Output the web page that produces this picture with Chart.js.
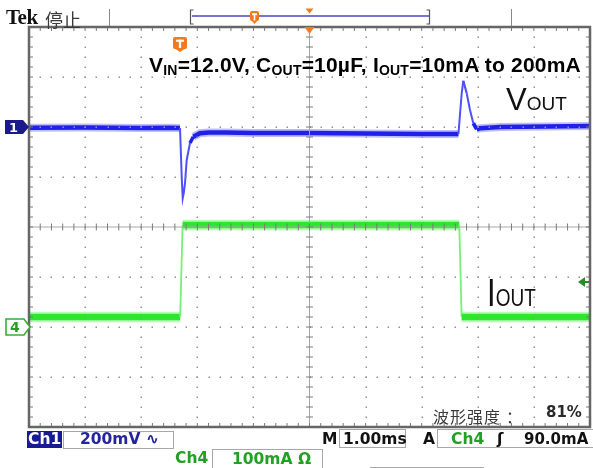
<!DOCTYPE html>
<html><head><meta charset="utf-8">
<script src="https://cdn.jsdelivr.net/npm/chart.js@4.4.1/dist/chart.umd.min.js"></script>
<style>
html,body{margin:0;padding:0;background:#fff;}
#wrap{position:relative;width:593px;height:468px;overflow:hidden;background:#fff;}
#c{position:absolute;left:0;top:0;}
.t{position:absolute;white-space:nowrap;line-height:1;}
.sc{font-family:"DejaVu Sans",sans-serif;font-weight:bold;font-size:15.5px;}
.box{position:absolute;box-sizing:border-box;border:1px solid #a8a8a8;}
.g{color:#22a022;}
.n{color:#24249c;}
</style></head><body>
<div id="wrap">
<canvas id="c" width="593" height="468"></canvas>
<div class="t" style="left:6px;top:5px;font:bold 21px 'Liberation Serif',serif;color:#111;letter-spacing:-0.5px">Tek</div>
<div class="t" style="left:45px;top:6px;font:18px 'Noto Sans CJK SC',sans-serif;color:#3a3a3a">停止</div>
<div class="t" style="left:149px;top:53px;font:bold 21px 'Liberation Sans',Arial,sans-serif;color:#000;letter-spacing:0.2px">V<span style="font-size:14px;vertical-align:-3px">IN</span>=12.0V, C<span style="font-size:14px;vertical-align:-3px">OUT</span>=10µF, I<span style="font-size:14px;vertical-align:-3px">OUT</span>=10mA to 200mA</div>
<div class="t" style="left:506px;top:84px;font:31px 'Liberation Sans',Arial,sans-serif;line-height:31px;color:#111">V<span style="font-size:19px">OUT</span></div>
<div class="t" style="left:487px;top:280px;font:31px 'Liberation Sans',Arial,sans-serif;line-height:31px;color:#111;transform:scaleY(1.27);transform-origin:0 26px">I<span style="font-size:19px">OUT</span></div>
<div id="m1" class="t sc" style="left:9px;top:121px;font-size:13px;color:#fff">1</div>
<div id="m4" class="t sc" style="left:10px;top:320px;font-size:14px" ><span class="g">4</span></div>
<div class="t" style="left:433px;top:404px;font:16px 'Noto Sans CJK SC',sans-serif;color:#3a3a3a;letter-spacing:1px">波形强度<span style="margin-left:5px">：</span></div>
<div class="t sc" style="left:546px;top:405px;font-size:15px;color:#2a2a2a">81%</div>
<div class="box" style="left:27px;top:431px;width:35px;height:17px;background:#1a1a96;border:none"></div>
<div class="t sc" style="left:28px;top:432px;color:#fff">Ch1</div>
<div class="box" style="left:63px;top:431px;width:111px;height:18px"></div>
<div class="t sc n" style="left:80px;top:432px">200mV ∿</div>
<div class="t sc" style="left:322px;top:432px;color:#111">M</div>
<div class="box" style="left:339px;top:429px;width:67px;height:19px"></div>
<div class="t sc" style="left:343px;top:432px;color:#111">1.00ms</div>
<div class="t sc" style="left:423px;top:432px;color:#111">A</div>
<div class="box" style="left:437px;top:429px;width:170px;height:19px"></div>
<div class="t sc g" style="left:451px;top:432px">Ch4</div>
<div class="t sc" style="left:497px;top:432px;color:#111">ʃ</div>
<div class="t sc" style="left:524px;top:432px;font-size:15px;color:#111">90.0mA</div>
<div class="t sc g" style="left:175px;top:451px">Ch4</div>
<div class="box" style="left:212px;top:449px;width:111px;height:20px"></div>
<div class="t sc g" style="left:232px;top:452px">100mA Ω</div>
<div class="box" style="left:370px;top:467px;width:114px;height:4px"></div>
</div>
<script>
// ---- data (time in ms, Ch1 in mV relative to its ground marker, Ch4 in mA) ----
const ch1Time = [-5, -4, -3, -2.5, -2.308, -2.278, -2.260, -2.240, -2.219, -2.189, -2.130, -2.071, -1.952, -1.80, -1.50, -1.0, 0, 1.0, 2.0, 2.655, 2.713, 2.742, 2.802, 2.861, 2.920, 2.980, 3.039, 3.40, 4.2, 5];
const ch1mV   = [-3, -2, -4, -3, -4, -199, -285, -262, -224, -132, -64, -39, -25, -22, -22, -24, -24, -26, -28, -28, 135, 185, 135, 68, 15, -9, -5, 0, 2, 4];
const ch4Time = [-5, -2.305, -2.262, 2.670, 2.712, 5];
const ch4mA   = [20, 20, 204, 204, 20, 20];
const timeDivs = [-5, -4, -3, -2, -1, 0, 1, 2, 3, 4, 5];      // 1.00 ms/div
const ch1Divs  = [-1200, -1000, -800, -600, -400, -200, 0, 200, 400]; // 200 mV/div
const triggerTime = 0, triggerLevel = 90; // ms, mA

const pts = (xs, ys) => xs.map((x, i) => ({x: x, y: ys[i]}));
const steepness = c => {
  const dx = Math.abs(c.p1.x - c.p0.x) || 0.001, dy = Math.abs(c.p1.y - c.p0.y);
  const r = dy / dx;
  return r <= 0.6 ? 0 : r >= 4 ? 1 : (r - 0.6) / 3.4;
};
const segW = (thick, thin) => c => thick + (thin - thick) * steepness(c);
const bandC = (r, g, b, a) => c => 'rgba(' + r + ',' + g + ',' + b + ',' + (a * Math.max(0, 1 - 2.5 * steepness(c))).toFixed(3) + ')';

const deco = {
  id: 'deco',
  afterDatasetsDraw(chart) {
    const ctx = chart.ctx, a = chart.chartArea;
    const xs = chart.scales.x, ys = chart.scales.y;
    const L = a.left, R = a.right, T = a.top, B = a.bottom;
    const xMaj = timeDivs.map(v => xs.getPixelForValue(v));
    const yMaj = ch1Divs.map(v => ys.getPixelForValue(v));
    const xMin = [], yMin = [];
    for (let i = 0; i < timeDivs.length - 1; i++) for (let k = 0; k < 5; k++) xMin.push(xs.getPixelForValue(timeDivs[i] + k * 0.2));
    for (let i = 0; i < ch1Divs.length - 1; i++) for (let k = 0; k < 5; k++) yMin.push(ys.getPixelForValue(ch1Divs[i] + k * 40));
    const cx = xs.getPixelForValue(0), cy = ys.getPixelForValue(-400);
    ctx.save();
    ctx.fillStyle = '#929292';
    xMaj.forEach((x, i) => { if (i === 0 || i === xMaj.length - 1 || i === 5) return;
      yMin.forEach(y => ctx.fillRect(Math.round(x) - 0.5, Math.round(y) - 0.5, 1.5, 1.5)); });
    yMaj.forEach((y, j) => { if (j === 0 || j === yMaj.length - 1 || j === 4) return;
      xMin.forEach(x => ctx.fillRect(Math.round(x) - 0.5, Math.round(y) - 0.5, 1.5, 1.5)); });
    ctx.strokeStyle = '#a8a8a8'; ctx.lineWidth = 1;
    ctx.beginPath(); ctx.moveTo(cx, T); ctx.lineTo(cx, B); ctx.moveTo(L, cy); ctx.lineTo(R, cy); ctx.stroke();
    ctx.strokeStyle = '#7a7a7a';
    ctx.beginPath();
    yMin.forEach(y => { ctx.moveTo(cx - 3.5, y); ctx.lineTo(cx + 3.5, y); });
    xMin.forEach(x => { ctx.moveTo(x, cy - 3.5); ctx.lineTo(x, cy + 3.5); });
    xMin.forEach(x => { ctx.moveTo(x, T); ctx.lineTo(x, T + 4); ctx.moveTo(x, B); ctx.lineTo(x, B - 4); });
    yMin.forEach(y => { ctx.moveTo(L, y); ctx.lineTo(L + 4, y); ctx.moveTo(R, y); ctx.lineTo(R - 4, y); });
    ctx.stroke();
    ctx.strokeStyle = '#666'; ctx.lineWidth = 2.5;
    ctx.strokeRect(L, T, R - L, B - T);
    ctx.restore();
  },
  afterDraw(chart) {
    const ctx = chart.ctx, a = chart.chartArea;
    const xs = chart.scales.x, ys = chart.scales.y, y4 = chart.scales.y4;
    const orange = '#f47a1e';
    ctx.save();
    ctx.strokeStyle = '#8a8a8a'; ctx.lineWidth = 1;
    ctx.beginPath(); ctx.moveTo(109.5, 9); ctx.lineTo(109.5, 26); ctx.moveTo(511.5, 9); ctx.lineTo(511.5, 26); ctx.stroke();
    ctx.strokeStyle = '#7474d8'; ctx.lineWidth = 2;
    ctx.beginPath(); ctx.moveTo(192, 16); ctx.lineTo(429, 16); ctx.stroke();
    ctx.strokeStyle = '#555'; ctx.lineWidth = 1.2;
    ctx.beginPath(); ctx.moveTo(193.5, 10); ctx.lineTo(190.5, 10); ctx.lineTo(190.5, 24); ctx.lineTo(193.5, 24);
    ctx.moveTo(426.5, 10); ctx.lineTo(429.5, 10); ctx.lineTo(429.5, 24); ctx.lineTo(426.5, 24); ctx.stroke();
    const badge = (x, y, w, h) => {
      ctx.fillStyle = orange;
      ctx.beginPath(); ctx.roundRect(x, y, w, h - 3, 2); ctx.fill();
      ctx.beginPath(); ctx.moveTo(x + 1, y + h - 4); ctx.lineTo(x + w - 1, y + h - 4); ctx.lineTo(x + w / 2, y + h); ctx.closePath(); ctx.fill();
      ctx.fillStyle = '#fff';
      ctx.fillRect(x + w * 0.22, y + h * 0.18, w * 0.56, Math.max(1.5, h * 0.14));
      ctx.fillRect(x + w / 2 - Math.max(0.8, w * 0.08), y + h * 0.18, Math.max(1.6, w * 0.16), h * 0.55);
    };
    badge(250, 11, 9, 13);
    badge(173, 37, 14, 15);
    const tx = xs.getPixelForValue(triggerTime);
    ctx.fillStyle = orange;
    ctx.beginPath(); ctx.moveTo(tx - 4, 8.5); ctx.lineTo(tx + 4, 8.5); ctx.lineTo(tx, 13.5); ctx.closePath(); ctx.fill();
    ctx.beginPath(); ctx.moveTo(tx - 5, a.top); ctx.lineTo(tx + 5, a.top); ctx.lineTo(tx, a.top + 7); ctx.closePath(); ctx.fill();
    const g1 = ys.getPixelForValue(0);
    ctx.fillStyle = '#1a1a8c';
    ctx.beginPath(); ctx.moveTo(5, g1 - 7); ctx.lineTo(23, g1 - 7); ctx.lineTo(29, g1); ctx.lineTo(23, g1 + 7); ctx.lineTo(5, g1 + 7); ctx.closePath(); ctx.fill();
    const g4 = y4.getPixelForValue(0);
    ctx.fillStyle = '#fff'; ctx.strokeStyle = '#3aaa3a'; ctx.lineWidth = 1.6;
    ctx.beginPath(); ctx.moveTo(6, g4 - 8); ctx.lineTo(24, g4 - 8); ctx.lineTo(30, g4); ctx.lineTo(24, g4 + 8); ctx.lineTo(6, g4 + 8); ctx.closePath(); ctx.fill(); ctx.stroke();
    const tl = y4.getPixelForValue(triggerLevel);
    ctx.fillStyle = '#2a8c2a'; ctx.strokeStyle = '#2a8c2a'; ctx.lineWidth = 2;
    ctx.beginPath(); ctx.moveTo(578, tl); ctx.lineTo(585, tl - 5); ctx.lineTo(585, tl + 5); ctx.closePath(); ctx.fill();
    ctx.beginPath(); ctx.moveTo(584, tl); ctx.lineTo(590, tl); ctx.stroke();
    ctx.restore();
    document.getElementById('m1').style.top = (g1 - 6) + 'px';
    document.getElementById('m4').style.top = (g4 - 7) + 'px';
  }
};

new Chart(document.getElementById('c'), {
  type: 'line',
  data: {
    datasets: [
      { label: 'Ch1', data: pts(ch1Time, ch1mV), yAxisID: 'y', order: 1,
        borderColor: 'rgb(32,32,232)', borderWidth: 4.5, pointRadius: 0, tension: 0,
        segment: { borderWidth: segW(4.5, 2), borderColor: c => steepness(c) > 0.7 ? 'rgb(80,80,250)' : 'rgb(32,32,232)' } },
      { label: 'Ch1 band', data: pts(ch1Time, ch1mV), yAxisID: 'y', order: 2,
        borderColor: 'rgba(70,70,255,0.35)', borderWidth: 8, pointRadius: 0, tension: 0,
        segment: { borderColor: bandC(70, 70, 255, 0.35) } },
      { label: 'Ch4', data: pts(ch4Time, ch4mA), yAxisID: 'y4', order: 3,
        borderColor: 'rgb(44,232,44)', borderWidth: 6.5, pointRadius: 0, tension: 0,
        segment: { borderWidth: segW(6.5, 1.8), borderColor: c => steepness(c) > 0.7 ? 'rgb(120,240,120)' : 'rgb(44,232,44)' } },
      { label: 'Ch4 band', data: pts(ch4Time, ch4mA), yAxisID: 'y4', order: 4,
        borderColor: 'rgba(80,240,80,0.4)', borderWidth: 10.5, pointRadius: 0, tension: 0,
        segment: { borderColor: bandC(80, 240, 80, 0.4) } }
    ]
  },
  options: {
    responsive: false, animation: false, events: [],
    layout: { padding: { left: 29, top: 27, right: 3, bottom: 41 } },
    scales: {
      x: { type: 'linear', min: -5, max: 5, display: false },
      y: { min: -1200, max: 400, display: false },
      y4: { min: -200, max: 600, display: false, position: 'right' }
    },
    plugins: { legend: { display: false }, tooltip: { enabled: false } }
  },
  plugins: [deco]
});
</script>
</body></html>
